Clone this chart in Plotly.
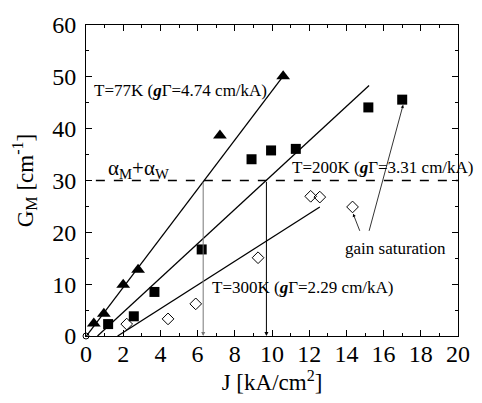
import plotly.graph_objects as go

# Data
tri_J = [0.42, 0.96, 2.0, 2.8, 7.2, 10.6]
tri_G = [2.4, 4.3, 9.9, 12.8, 38.7, 50.1]

sq_J = [1.19, 2.57, 3.68, 6.22, 8.9, 9.95, 11.28, 15.18, 17.0]
sq_G = [2.3, 3.8, 8.5, 16.7, 34.1, 35.8, 36.1, 44.1, 45.6]

dia_J = [2.19, 4.41, 5.9, 9.25, 12.08, 12.57, 14.33]
dia_G = [2.3, 3.3, 6.2, 15.1, 26.95, 26.8, 24.9]

origin_J = [0.0]
origin_G = [0.0]

# Linear fits: G = slope * (J - J0), drawn between J start/end
fit_slopes = [4.74, 3.31, 2.29]
fit_J0 = [0.02, 0.62, 1.70]
fit_Jend = [10.55, 15.22, 12.57]

threshold = 30
thr_J = [0.53, 20]
cross_J = [6.3, 9.7]

font_family = "Liberation Serif"

fig = go.Figure()

for s, j0, je in zip(fit_slopes, fit_J0, fit_Jend):
    xs = [j0, je]
    ys = [s * (x - j0) for x in xs]
    fig.add_trace(go.Scatter(x=xs, y=ys, mode="lines",
                             line=dict(color="black", width=1.3),
                             showlegend=False, hoverinfo="skip"))

fig.add_trace(go.Scatter(x=thr_J, y=[threshold, threshold], mode="lines",
                         line=dict(color="black", width=1.5, dash="dash"),
                         showlegend=False))

fig.add_trace(go.Scatter(x=tri_J, y=tri_G, mode="markers",
                         marker=dict(symbol="triangle-up", size=12, color="black"),
                         showlegend=False))
fig.add_trace(go.Scatter(x=sq_J, y=sq_G, mode="markers",
                         marker=dict(symbol="square", size=10, color="black"),
                         showlegend=False))
fig.add_trace(go.Scatter(x=dia_J, y=dia_G, mode="markers",
                         marker=dict(symbol="diamond-open", size=9, color="black",
                                     line=dict(width=1)),
                         showlegend=False))
fig.add_trace(go.Scatter(x=origin_J, y=origin_G, mode="markers",
                         marker=dict(symbol="circle-open", size=6, color="black",
                                     line=dict(width=1)),
                         showlegend=False, cliponaxis=False))

# vertical arrows from threshold crossings down to axis
arrow_colors = ["#777777", "black"]
for xj, c in zip(cross_J, arrow_colors):
    fig.add_annotation(x=xj, y=0, ax=xj, ay=threshold, xref="x", yref="y",
                       axref="x", ayref="y", showarrow=True, arrowhead=2,
                       arrowsize=0.8, arrowwidth=1, arrowcolor=c, text="")

# gain saturation arrows
fig.add_annotation(x=14.36, y=23.6, ax=14.75, ay=20.0, xref="x", yref="y",
                   axref="x", ayref="y", showarrow=True, arrowhead=2,
                   arrowsize=0.8, arrowwidth=0.8, arrowcolor="black", text="")
fig.add_annotation(x=17.05, y=44.6, ax=15.2, ay=20.0, xref="x", yref="y",
                   axref="x", ayref="y", showarrow=True, arrowhead=2,
                   arrowsize=0.8, arrowwidth=0.8, arrowcolor="black", text="")

txtfont = dict(family=font_family, size=17, color="black")
labels = [
    (0.33, 47.4, "T=77K (<b><i>g</i></b>Γ=4.74 cm/kA)"),
    (10.98, 32.6, "T=200K (<b><i>g</i></b>Γ=3.31 cm/kA)"),
    (6.65, 9.4, "T=300K (<b><i>g</i></b>Γ=2.29 cm/kA)"),
    (13.8, 16.9, "gain saturation"),
]
for x, y, t in labels:
    fig.add_annotation(x=x, y=y, text=t, showarrow=False, xanchor="left",
                       yanchor="middle", font=txtfont)
fig.add_annotation(x=1.05, y=32.3, text="α<sub>M</sub>+α<sub>W</sub>",
                   showarrow=False, xanchor="left", yanchor="middle",
                   font=dict(family=font_family, size=21, color="black"))

axis_common = dict(showline=True, linecolor="black", linewidth=1, mirror="ticks",
                   ticks="inside", ticklen=6, tickcolor="black", showgrid=False,
                   zeroline=False,
                   tickfont=dict(family=font_family, size=24, color="black"))

fig.update_xaxes(range=[0, 20], tick0=0, dtick=2, ticklabelstandoff=-4,
                 minor=dict(dtick=1, ticks="inside", ticklen=3, tickcolor="black"),
                 title=dict(text="J [kA/cm<sup>2</sup>]", standoff=2,
                            font=dict(family=font_family, size=23, color="black")),
                 **axis_common)
fig.update_yaxes(range=[0, 60], tick0=0, dtick=10, ticklabelstandoff=4,
                 minor=dict(dtick=5, ticks="inside", ticklen=3, tickcolor="black"),
                 title=dict(text="G<sub>M</sub> [cm<sup>-1</sup>]", standoff=12,
                            font=dict(family=font_family, size=23, color="black")),
                 **axis_common)

fig.update_layout(width=482, height=403, plot_bgcolor="white", paper_bgcolor="white",
                  margin=dict(l=86, r=15, t=18, b=67), showlegend=False,
                  font=dict(family=font_family, size=18))

fig.write_html("out.html")
